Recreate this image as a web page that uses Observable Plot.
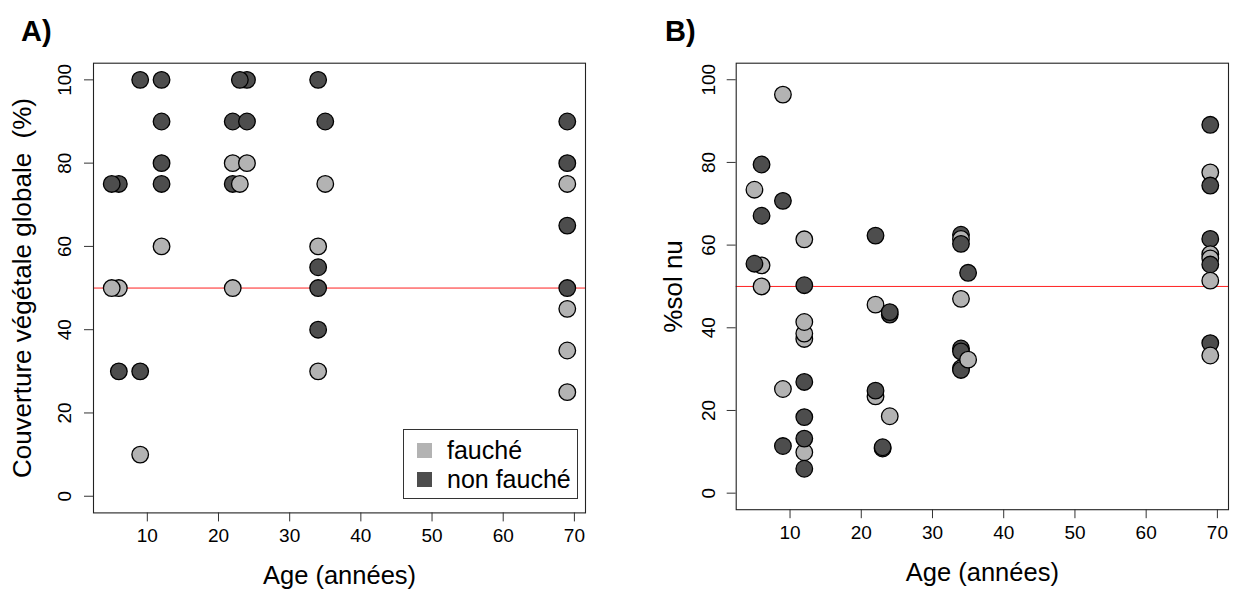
<!DOCTYPE html>
<html><head><meta charset="utf-8">
<script src="https://cdn.jsdelivr.net/npm/d3@7"></script>
<script src="https://cdn.jsdelivr.net/npm/@observablehq/plot@0.6"></script>
<style>
body{margin:0;background:#fff;font-family:"Liberation Sans",Arial,Helvetica,sans-serif;}
#fig{position:relative;width:1234px;height:589px;overflow:hidden;background:#fff}
.panel{position:absolute;top:0}
.panel svg{overflow:visible}
.tag{position:absolute;font-weight:bold;font-size:29px;line-height:1;color:#000}
.legend{position:absolute;box-sizing:border-box;border:1.3px solid #333;background:#fff;font-size:25px;color:#000}
.legend .row{position:absolute;left:0;display:flex;align-items:center}
.legend .sw{width:15px;height:15px;margin-left:13px;margin-right:15px}
</style></head><body>
<div id="fig">
  <div id="pA" class="panel" style="left:0"></div>
  <div id="pB" class="panel" style="left:617px"></div>
  <div class="tag" style="left:21px;top:17px">A)</div>
  <div class="tag" style="left:665px;top:17px">B)</div>
  <div id="legend" class="legend" style="left:403px;top:429px;width:175px;height:70px"></div>
</div>
<script>
const groups = ["fauché", "non fauché"];
const groupFill = ["#b3b3b3", "#4d4d4d"];

// Panel A : couverture végétale globale (%)
const ageA  = [6, 5, 6, 5, 6, 9, 9, 9, 12, 12, 12, 12, 12, 22, 22, 22, 22, 24, 23, 24, 24, 23, 34, 34, 34, 34, 34, 34, 35, 35, 69, 69, 69, 69, 69, 69, 69, 69];
const couvA = [75, 75, 50, 50, 30, 30, 10, 100, 100, 90, 80, 75, 60, 90, 75, 80, 50, 100, 100, 90, 80, 75, 100, 60, 55, 50, 40, 30, 90, 75, 90, 80, 75, 65, 50, 45, 35, 25];
const grpA  = [1, 1, 0, 0, 1, 1, 0, 1, 1, 1, 1, 1, 0, 1, 1, 0, 0, 1, 1, 1, 0, 0, 1, 0, 1, 1, 1, 0, 1, 0, 1, 1, 0, 1, 1, 0, 0, 0];

// Panel B : % sol nu
const ageB = [6, 5, 5, 6, 6, 6, 9, 9, 9, 9, 12, 12, 12, 12, 12, 12, 12, 12, 12, 12, 22, 22, 22, 22, 23, 23, 24, 24, 24, 34, 34, 34, 34, 34, 34, 34, 34, 35, 35, 69, 69, 69, 69, 69, 69, 69, 69, 69, 69];
const solB = [55.1, 55.5, 73.4, 79.5, 67.1, 50, 96.4, 70.7, 25.2, 11.4, 61.4, 50.3, 37.3, 38.6, 41.4, 26.9, 18.4, 9.9, 13.2, 5.9, 62.3, 45.6, 23.4, 24.8, 10.8, 11.1, 43.2, 43.8, 18.6, 62.5, 61.5, 60.3, 47, 35, 34.3, 30.2, 29.8, 53.3, 32.3, 89.1, 77.6, 74.4, 61.5, 57.8, 56.8, 55.3, 51.4, 36.3, 33.3];
const grpB = [0, 1, 0, 1, 1, 0, 0, 1, 0, 1, 0, 1, 0, 0, 0, 1, 1, 0, 1, 1, 1, 0, 0, 1, 1, 1, 1, 1, 0, 1, 0, 1, 0, 1, 1, 0, 1, 1, 0, 1, 0, 1, 1, 0, 0, 1, 0, 1, 0];

const xTicks = [10, 20, 30, 40, 50, 60, 70];
const yTicks = [0, 20, 40, 60, 80, 100];
const yLimits = [0, 100];
const threshold = 50;

const FONT = '"Liberation Sans", Arial, Helvetica, sans-serif';

function ext4(lo, hi) { const d = (hi - lo) * 0.04; return [lo - d, hi + d]; }
const allAges = ageA.concat(ageB);
const xDom = ext4(d3.min(allAges), d3.max(allAges));
const yDom = ext4(yLimits[0], yLimits[1]);

function rows(ages, vals, grps) {
  return ages.map((a, i) => ({age: a, v: vals[i], g: groups[grps[i]]}));
}

function panel(data, {ml, mr, mb, ylab, ylabOffset, tickGap}) {
  return Plot.plot({
    width: 617, height: 589,
    marginLeft: ml, marginRight: mr, marginTop: 62.7, marginBottom: mb,
    style: {fontFamily: FONT, background: "transparent", color: "#000", overflow: "visible"},
    x: {domain: xDom},
    y: {domain: yDom},
    color: {domain: groups, range: groupFill},
    marks: [
      Plot.ruleY([threshold], {stroke: "#ff2020", strokeWidth: 1}),
      Plot.dot(data, {x: "age", y: "v", r: 8.3, fill: "g", stroke: "#000", strokeWidth: 1.3}),
      Plot.frame({stroke: "#222", strokeWidth: 1.1}),
      Plot.axisX(xTicks, {tickSize: 9, tickPadding: 7, fontSize: 19, label: null, stroke: "#333"}),
      Plot.axisY(yTicks, {tickSize: 9, tickFormat: () => "", label: null, stroke: "#333"}),
      Plot.text(yTicks, {y: d => d, text: d => String(d), frameAnchor: "left", rotate: -90, dx: -tickGap,
        lineAnchor: "bottom", textAnchor: "middle", fontSize: 19, fill: "#000"}),
      Plot.text(["Age (années)"], {frameAnchor: "bottom", dy: 71, lineAnchor: "bottom", textAnchor: "middle", fontSize: 25.5, fill: "#000"}),
      Plot.text([ylab], {frameAnchor: "left", rotate: -90, dx: -ylabOffset, lineAnchor: "top", textAnchor: "middle", fontSize: 26, fill: "#000"})
    ]
  });
}

document.getElementById("pA").appendChild(panel(rows(ageA, couvA, grpA),
  {ml: 93, mr: 32, mb: 76.6, ylab: "Couverture végétale globale  (%)", ylabOffset: 81, tickGap: 23}));
document.getElementById("pB").appendChild(panel(rows(ageB, solB, grpB),
  {ml: 118.7, mr: 6, mb: 79.8, ylab: "%sol nu", ylabOffset: 73, tickGap: 21}));

const leg = document.getElementById("legend");
groups.forEach((g, i) => {
  const row = document.createElement("div");
  row.className = "row";
  row.style.top = (i === 0 ? 6 : 35) + "px";
  row.style.height = "28px";
  const sw = document.createElement("div");
  sw.className = "sw";
  sw.style.background = groupFill[i];
  const t = document.createElement("span");
  t.textContent = g;
  row.appendChild(sw); row.appendChild(t);
  leg.appendChild(row);
});
</script>
</body></html>
